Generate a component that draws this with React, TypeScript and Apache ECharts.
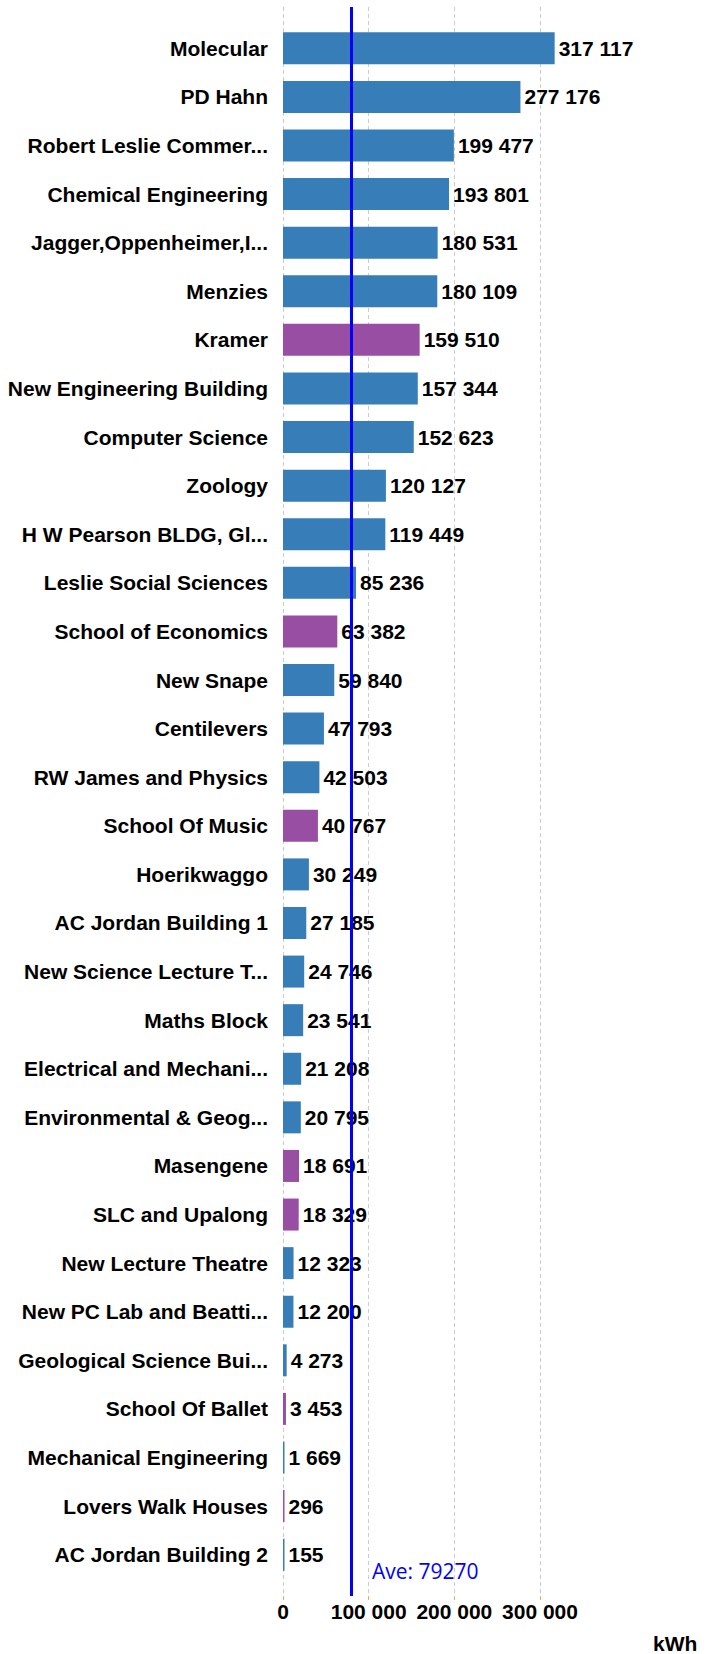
import React, { useEffect, useRef } from "react";
import * as echarts from "echarts";

const CATEGORIES: string[] = [
  "Molecular",
  "PD Hahn",
  "Robert Leslie Commer...",
  "Chemical Engineering",
  "Jagger,Oppenheimer,I...",
  "Menzies",
  "Kramer",
  "New Engineering Building",
  "Computer Science",
  "Zoology",
  "H W Pearson BLDG, Gl...",
  "Leslie Social Sciences",
  "School of Economics",
  "New Snape",
  "Centilevers",
  "RW James and Physics",
  "School Of Music",
  "Hoerikwaggo",
  "AC Jordan Building 1",
  "New Science Lecture T...",
  "Maths Block",
  "Electrical and Mechani...",
  "Environmental & Geog...",
  "Masengene",
  "SLC and Upalong",
  "New Lecture Theatre",
  "New PC Lab and Beatti...",
  "Geological Science Bui...",
  "School Of Ballet",
  "Mechanical Engineering",
  "Lovers Walk Houses",
  "AC Jordan Building 2",
];

const VALUES: number[] = [
  317117, 277176, 199477, 193801, 180531, 180109, 159510, 157344, 152623,
  120127, 119449, 85236, 63382, 59840, 47793, 42503, 40767, 30249, 27185,
  24746, 23541, 21208, 20795, 18691, 18329, 12323, 12200, 4273, 3453, 1669,
  296, 155,
];

const HIGHLIGHTED: string[] = [
  "Kramer",
  "School of Economics",
  "School Of Music",
  "Masengene",
  "SLC and Upalong",
  "School Of Ballet",
  "Lovers Walk Houses",
];

const AVERAGE = 79270;
const AXIS_MAX = 300000;
const AXIS_INTERVAL = 100000;
const UNIT = "kWh";

const BLUE = "#377EB8";
const PURPLE = "#984EA3";
const LABEL_FONT = "'Liberation Sans', Arial, sans-serif";
const FS = 21;

const fmt = (v: number) =>
  String(Math.round(v)).replace(/\B(?=(\d{3})+(?!\d))/g, " ");

export default function App() {
  const ref = useRef<HTMLDivElement>(null);

  useEffect(() => {
    document.body.style.margin = "0";
    if (!ref.current) return;
    const chart = echarts.init(ref.current, null, { renderer: "svg" });

    const barData = CATEGORIES.map((name, i) => ({
      value: VALUES[i],
      itemStyle: { color: HIGHLIGHTED.includes(name) ? PURPLE : BLUE },
    }));

    chart.setOption({
      animation: false,
      backgroundColor: "#ffffff",
      grid: [
        { left: 283, right: 172, top: 24, height: 1555 },
        { left: 283, right: 172, top: 7, bottom: 55 },
      ],
      xAxis: [
        {
          type: "value",
          gridIndex: 0,
          min: 0,
          max: AXIS_MAX,
          interval: AXIS_INTERVAL,
          show: false,
          splitLine: { show: false },
        },
        {
          type: "value",
          gridIndex: 1,
          min: 0,
          max: AXIS_MAX,
          interval: AXIS_INTERVAL,
          axisLine: { show: false },
          axisTick: {
            show: true,
            length: 4,
            lineStyle: { color: "#f4a460", width: 1 },
          },
          splitLine: {
            show: true,
            lineStyle: { color: "#cccccc", type: [4, 3], width: 1 },
          },
          axisLabel: {
            margin: 5,
            color: "#000000",
            fontFamily: LABEL_FONT,
            fontWeight: "bold",
            fontSize: FS,
            formatter: (v: number) => fmt(v),
          },
          name: UNIT,
          nameLocation: "end",
          nameGap: 113,
          nameTextStyle: {
            color: "#000000",
            fontFamily: LABEL_FONT,
            fontWeight: "bold",
            fontSize: FS,
            verticalAlign: "top",
            align: "left",
            padding: [37, 0, 0, 0],
          },
        },
      ],
      yAxis: [
        {
          type: "category",
          gridIndex: 0,
          inverse: true,
          data: CATEGORIES,
          axisLine: { show: false },
          axisTick: { show: false },
          splitLine: { show: false },
          axisLabel: {
            margin: 15,
            color: "#000000",
            fontFamily: LABEL_FONT,
            fontWeight: "bold",
            fontSize: FS,
          },
        },
        {
          type: "value",
          gridIndex: 1,
          min: 0,
          max: 1,
          show: false,
          splitLine: { show: false },
        },
      ],
      series: [
        {
          type: "bar",
          xAxisIndex: 0,
          yAxisIndex: 0,
          data: barData,
          barWidth: 32,
          barMinHeight: 1.5,
          clip: false,
          label: {
            show: true,
            position: "right",
            distance: 4,
            color: "#000000",
            fontFamily: LABEL_FONT,
            fontWeight: "bold",
            fontSize: FS,
            formatter: (p: any) => fmt(p.value),
          },
        },
        {
          type: "line",
          xAxisIndex: 1,
          yAxisIndex: 1,
          data: [],
          markLine: {
            silent: true,
            symbol: ["none", "none"],
            lineStyle: { color: "#0000ff", width: 3, type: "solid" },
            label: {
              show: true,
              position: "start",
              distance: 0,
              align: "left",
              verticalAlign: "bottom",
              padding: [0, 0, 15, 21],
              color: "#0000ff",
              fontFamily: "'Open Sans', 'Noto Sans', sans-serif",
              fontSize: 21,
              formatter: () => `Ave: ${AVERAGE}`,
            },
            data: [{ xAxis: AVERAGE }],
          },
        },
      ],
    });

    return () => chart.dispose();
  }, []);

  return (
    <div
      ref={ref}
      style={{ position: "absolute", left: 0, top: 0, width: 712, height: 1654 }}
    />
  );
}
